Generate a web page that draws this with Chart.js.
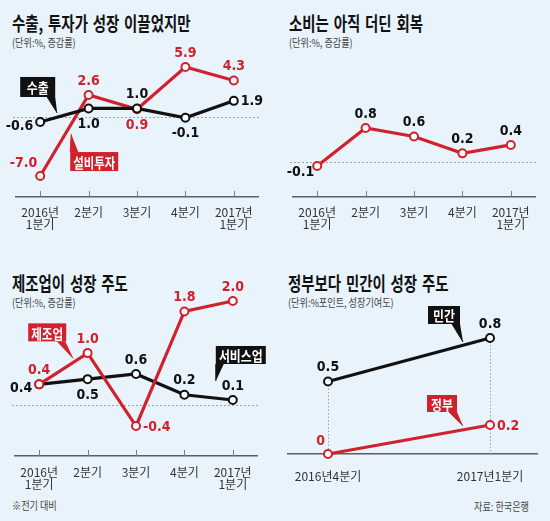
<!DOCTYPE html>
<html>
<head>
<meta charset="utf-8">
<script src="https://cdn.jsdelivr.net/npm/chart.js@4.4.0/dist/chart.umd.min.js"></script>
<style>
body{margin:0;background:#e9f3fb;}
#wrap{position:relative;width:550px;height:521px;background:#e9f3fb;overflow:hidden;font-family:"Noto Sans CJK KR",sans-serif;}
canvas{position:absolute;}
.title{position:absolute;font-weight:bold;font-size:19px;color:#111;transform:scaleX(0.76);transform-origin:0 0;white-space:nowrap;line-height:1;word-spacing:2px;}
.sub{position:absolute;font-size:11px;color:#444;transform:scaleX(0.83);transform-origin:0 0;white-space:nowrap;line-height:1;}
</style>
</head>
<body>
<div id="wrap">
  <div class="title" style="left:12px;top:13px">수출, 투자가 성장 이끌었지만</div>
  <div class="sub" style="left:12px;top:37px">(단위:%, 증감률)</div>
  <div class="title" style="left:289px;top:13px">소비는 아직 더딘 회복</div>
  <div class="sub" style="left:289px;top:37px">(단위:%, 증감률)</div>
  <div class="title" style="left:12px;top:273px">제조업이 성장 주도</div>
  <div class="sub" style="left:12px;top:297px">(단위:%, 증감률)</div>
  <div class="title" style="left:288px;top:273px">정부보다 민간이 성장 주도</div>
  <div class="sub" style="left:288px;top:297px">(단위:%포인트, 성장기여도)</div>
  <div class="sub" style="left:12px;top:500px">※전기 대비</div>
  <div class="sub" style="left:474px;top:501px">자료: 한국은행</div>

  <canvas id="chartTrade" width="275" height="240" style="left:0;top:0"></canvas>
  <canvas id="chartConsume" width="275" height="240" style="left:275px;top:0"></canvas>
  <canvas id="chartIndustry" width="275" height="240" style="left:0;top:260px"></canvas>
  <canvas id="chartContrib" width="275" height="240" style="left:275px;top:260px"></canvas>
</div>
<script>
// Data
const quarters = [['2016년', '1분기'], '2분기', '3분기', '4분기', ['2017년', '1분기']];
const exportVals = [-0.6, 1.0, 1.0, -0.1, 1.9];
const investVals = [-7.0, 2.6, 0.9, 5.9, 4.3];
const consumeVals = [-0.1, 0.8, 0.6, 0.2, 0.4];
const manufVals = [0.4, 1.0, -0.4, 1.8, 2.0];
const serviceVals = [0.4, 0.5, 0.6, 0.2, 0.1];
const contribLabels = ['2016년4분기', '2017년1분기'];
const privateVals = [0.5, 0.8];
const govVals = [0, 0.2];

const RED = '#d0212d';
const BLACK = '#111111';
const NUM_FONT = "bold 14px 'Liberation Sans Narrow','DejaVu Sans Condensed',sans-serif";
const BOX_FONT = "bold 14px 'Noto Sans CJK KR',sans-serif";

// label placement: dx, dy, align
const OFFS = {
	top: [0, -14, 'center'],
	bottom: [0, 16, 'center'],
	left: [-7, 4, 'right'],
	right: [7, 1, 'left'],
	topleft: [-3, -13, 'right'],
	bottomleft: [-3, 6, 'right']
};

function fmt(v) {
	return v === 0 ? '0' : v.toFixed(1);
}

const decorPlugin = {
	id: 'decor',
	beforeDatasetsDraw(chart, args, opts) {
		const ctx = chart.ctx;
		const area = chart.chartArea;
		const xs = chart.scales.x;
		const ys = chart.scales.y;
		ctx.save();
		if (opts.zeroLine) {
			const y0 = Math.round(ys.getPixelForValue(0)) + 0.5;
			ctx.strokeStyle = '#9aa3aa';
			ctx.lineWidth = 1;
			ctx.setLineDash([2, 2]);
			ctx.beginPath();
			ctx.moveTo(area.left - 3, y0);
			ctx.lineTo(area.right + 3, y0);
			ctx.stroke();
		}
		if (opts.tickMarks) {
			ctx.setLineDash([]);
			ctx.strokeStyle = '#7a7f84';
			ctx.lineWidth = 1;
			xs.ticks.forEach(function(t, i) {
				const x = Math.round(xs.getPixelForTick(i)) + 0.5;
				ctx.beginPath();
				ctx.moveTo(x, area.bottom - 6);
				ctx.lineTo(x, area.bottom);
				ctx.stroke();
			});
		}
		if (opts.dropLines) {
			ctx.setLineDash([1.5, 2]);
			ctx.strokeStyle = '#9aa3aa';
			ctx.lineWidth = 1;
			const n = chart.getDatasetMeta(0).data.length;
			for (let j = 0; j < n; j++) {
				let top = Infinity, x = 0;
				chart.data.datasets.forEach(function(d, i) {
					const p = chart.getDatasetMeta(i).data[j];
					top = Math.min(top, p.y);
					x = Math.round(p.x) + 0.5;
				});
				ctx.beginPath();
				ctx.moveTo(x, top);
				ctx.lineTo(x, area.bottom);
				ctx.stroke();
			}
		}
		ctx.restore();
	},
	afterDatasetsDraw(chart, args, opts) {
		const ctx = chart.ctx;
		ctx.save();
		// value labels
		chart.data.datasets.forEach(function(ds, i) {
			const meta = chart.getDatasetMeta(i);
			ctx.font = NUM_FONT;
			ctx.fillStyle = ds.labelColor;
			ctx.textBaseline = 'middle';
			meta.data.forEach(function(p, j) {
				const o = OFFS[ds.labelPos[j]];
				const d = ds.data[j];
				ctx.textAlign = o[2];
				ctx.fillText(fmt(typeof d === 'object' ? d.y : d), p.x + o[0], p.y + o[1]);
			});
		});
		// callout boxes
		(opts.callouts || []).forEach(function(c) {
			const p = chart.getDatasetMeta(c.ds).data[c.idx];
			const bx = p.x + c.box[0], by = p.y + c.box[1];
			ctx.fillStyle = c.color;
			ctx.fillRect(bx, by, c.box[2], c.box[3]);
			ctx.beginPath();
			ctx.moveTo(p.x + c.base[0][0], p.y + c.base[0][1]);
			ctx.lineTo(p.x + c.base[1][0], p.y + c.base[1][1]);
			ctx.lineTo(p.x + c.tip[0], p.y + c.tip[1]);
			ctx.closePath();
			ctx.fill();
			ctx.strokeStyle = c.color;
			ctx.lineWidth = 1;
			ctx.beginPath();
			ctx.moveTo(p.x + c.base[0][0], p.y + c.base[0][1]);
			ctx.lineTo(p.x + c.tip[0], p.y + c.tip[1]);
			ctx.stroke();
			ctx.save();
			ctx.font = BOX_FONT;
			const tw = ctx.measureText(c.text).width;
			const sx = Math.min(0.85, (c.box[2] - 6) / tw);
			ctx.translate(bx + c.box[2] / 2, by + c.box[3] / 2 + 1);
			ctx.scale(sx, 1);
			ctx.fillStyle = '#fff';
			ctx.textAlign = 'center';
			ctx.textBaseline = 'middle';
			ctx.fillText(c.text, 0, 0);
			ctx.restore();
		});
		ctx.restore();
	}
};

function lineSet(values, color, labelColor, labelPos) {
	return {
		data: values,
		borderColor: color,
		borderWidth: 3.2,
		pointRadius: 4,
		pointBorderWidth: 2,
		pointBackgroundColor: '#fff',
		pointBorderColor: color,
		tension: 0,
		clip: false,
		labelColor: labelColor,
		labelPos: labelPos
	};
}

function baseOptions(pad, axisH, tickPad, yMin, yMax, decor) {
	return {
		responsive: false,
		animation: false,
		events: [],
		layout: { padding: pad },
		plugins: {
			legend: { display: false },
			tooltip: { enabled: false },
			decor: decor
		},
		scales: {
			x: {
				offset: true,
				grid: { display: false },
				border: { display: true, color: '#5a5f64', width: 1.5 },
				afterFit: function(scale) { scale.height = axisH; },
				ticks: {
					color: '#333',
					padding: tickPad,
					maxRotation: 0,
					autoSkip: false,
					font: { family: "'Liberation Sans Narrow','Noto Sans CJK KR',sans-serif", size: 12, lineHeight: 1.05 }
				}
			},
			y: { display: false, min: yMin, max: yMax }
		}
	};
}

// 수출, 투자
new Chart(document.getElementById('chartTrade'), {
	type: 'line',
	data: {
		labels: quarters,
		datasets: [
			lineSet(exportVals, BLACK, BLACK, ['left', 'bottom', 'top', 'bottom', 'right']),
			lineSet(investVals, RED, RED, ['topleft', 'top', 'bottom', 'top', 'top'])
		]
	},
	options: baseOptions({ left: 16, right: 17, top: 50, bottom: 0 }, 43, 1, -9.48, 7.92, {
		zeroLine: true,
		tickMarks: true,
		callouts: [
			{ text: '수출', color: BLACK, ds: 0, idx: 0, box: [-20, -45, 35, 20], base: [[7, -25], [15, -25]], tip: [17, -9] },
			{ text: '설비투자', color: RED, ds: 1, idx: 0, box: [30, -24, 48, 19], base: [[30, -24], [38, -24]], tip: [31, -42] }
		]
	}),
	plugins: [decorPlugin]
});

// 소비
new Chart(document.getElementById('chartConsume'), {
	type: 'line',
	data: {
		labels: quarters,
		datasets: [
			lineSet(consumeVals, RED, BLACK, ['bottomleft', 'top', 'top', 'top', 'top'])
		]
	},
	options: baseOptions({ left: 18, right: 15, top: 50, bottom: 0 }, 43, 1, -0.834, 2.649, {
		zeroLine: true,
		tickMarks: true
	}),
	plugins: [decorPlugin]
});

// 제조업, 서비스업
new Chart(document.getElementById('chartIndustry'), {
	type: 'line',
	data: {
		labels: quarters,
		datasets: [
			lineSet(manufVals, RED, RED, ['top', 'top', 'right', 'top', 'top']),
			lineSet(serviceVals, BLACK, BLACK, ['left', 'bottom', 'top', 'top', 'top'])
		]
	},
	options: baseOptions({ left: 15, right: 18, top: 30, bottom: 0 }, 44, 2, -0.975, 2.211, {
		zeroLine: true,
		tickMarks: true,
		callouts: [
			{ text: '제조업', color: RED, ds: 0, idx: 0, box: [-11, -61, 38, 18], base: [[18, -43], [26, -43]], tip: [34, -26] },
			{ text: '서비스업', color: BLACK, ds: 1, idx: 4, box: [-17, -54, 50, 18], base: [[-17, -36], [-9, -36]], tip: [-17, -19] }
		]
	}),
	plugins: [decorPlugin]
});

// 민간, 정부 성장기여도
const contribOpts = baseOptions({ left: 13, right: 13, top: 40, bottom: 0 }, 46, 8, 0, 1.062, {
	dropLines: true,
	callouts: [
		{ text: '민간', color: BLACK, ds: 0, idx: 1, box: [-62, -32, 32, 18], base: [[-38, -14], [-30, -14]], tip: [-27, 4] },
		{ text: '정부', color: RED, ds: 1, idx: 1, box: [-63, -30, 30, 17], base: [[-41, -13], [-33, -13]], tip: [-27, 1] }
	]
});
contribOpts.scales.x.type = 'linear';
contribOpts.scales.x.offset = false;
contribOpts.scales.x.min = -0.247;
contribOpts.scales.x.max = 1.29;
contribOpts.scales.x.afterBuildTicks = function(scale) {
	scale.ticks = contribLabels.map(function(l, i) { return { value: i }; });
};
contribOpts.scales.x.ticks.callback = function(v) { return contribLabels[v]; };

new Chart(document.getElementById('chartContrib'), {
	type: 'line',
	data: {
		datasets: [
			lineSet(privateVals.map(function(v, i) { return { x: i, y: v }; }), BLACK, BLACK, ['top', 'top']),
			lineSet(govVals.map(function(v, i) { return { x: i, y: v }; }), RED, RED, ['topleft', 'right'])
		]
	},
	options: contribOpts,
	plugins: [decorPlugin]
});
</script>
</body>
</html>
